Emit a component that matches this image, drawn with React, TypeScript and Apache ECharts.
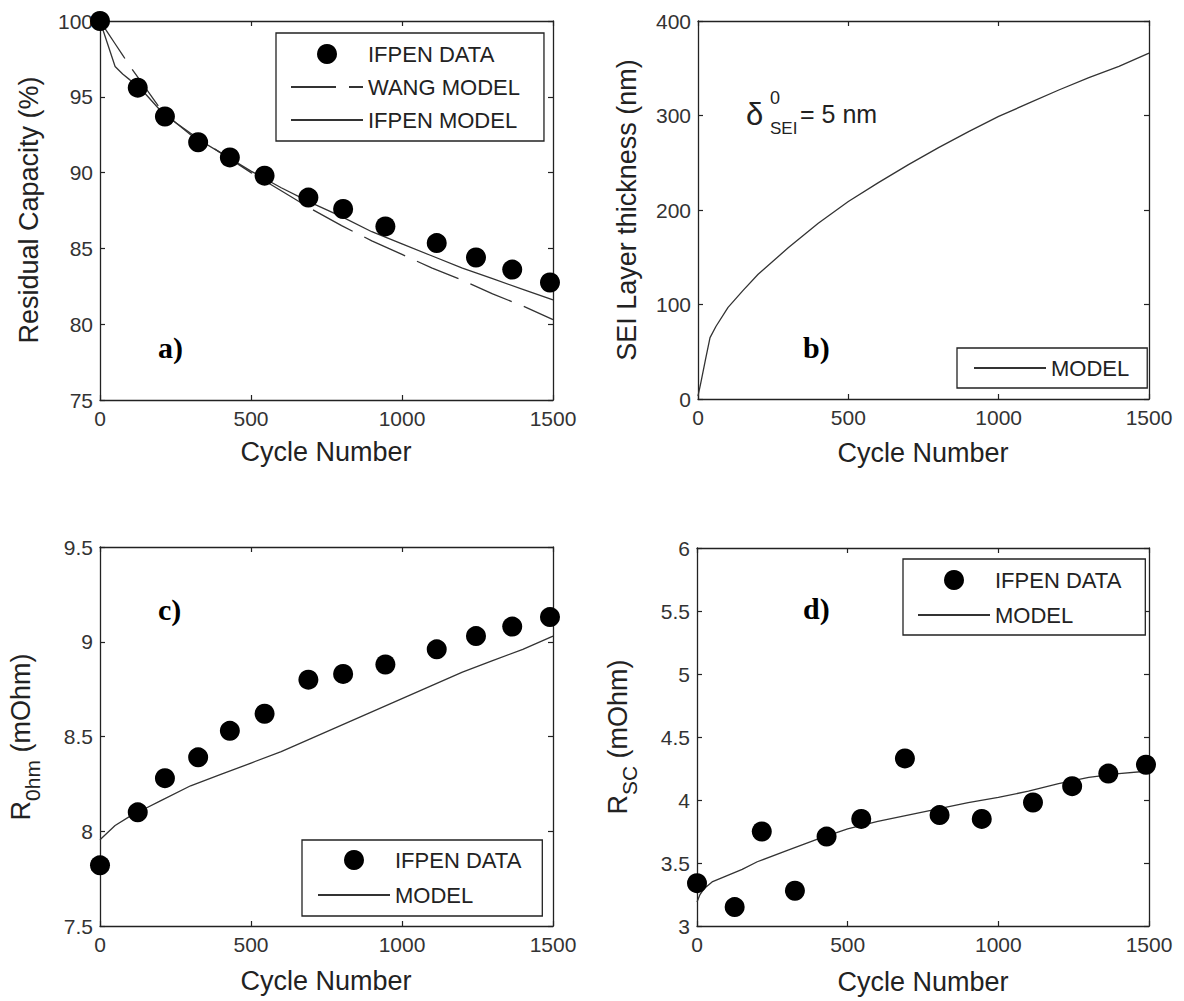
import React, { useEffect, useRef } from "react";
import * as echarts from "echarts";

// ---------- DATA ----------
const dataCycles = [0, 125, 215, 325, 430, 545, 690, 805, 945, 1115, 1245, 1365, 1490];

// a) residual capacity (%)
const capacityData = [100, 95.6, 93.7, 92.0, 91.0, 89.8, 88.35, 87.6, 86.45, 85.35, 84.4, 83.6, 82.75];
const capModelCycles = [0, 25, 50, 75, 100, 150, 200, 250, 300, 400, 500, 600, 700, 800, 900, 1000, 1100, 1200, 1300, 1400, 1500];
const ifpenCapModel = [100, 98.5, 97.0, 96.5, 96.1, 95.2, 94.1, 93.3, 92.5, 91.3, 90.1, 89.0, 88.0, 87.1, 86.1, 85.3, 84.5, 83.7, 83.0, 82.3, 81.6];
const wangCapModel = [100, 99.25, 98.5, 97.75, 97.0, 95.6, 94.2, 93.3, 92.6, 91.3, 90.0, 88.8, 87.6, 86.5, 85.5, 84.6, 83.7, 82.9, 82.0, 81.2, 80.3];

// b) SEI layer thickness (nm)
const seiCycles = [0, 10, 25, 40, 60, 100, 150, 200, 300, 400, 500, 600, 700, 800, 900, 1000, 1100, 1200, 1300, 1400, 1500];
const seiModel = [3, 18, 42, 65, 77, 97, 115, 132, 160, 186, 209, 229, 248, 266, 283, 299, 313, 327, 340, 352, 366];

// c) R_0hm (mOhm)
const rOhmData = [7.82, 8.1, 8.28, 8.39, 8.53, 8.62, 8.8, 8.83, 8.88, 8.96, 9.03, 9.08, 9.13];
const rOhmModelCycles = [0, 50, 100, 150, 200, 300, 400, 500, 600, 700, 800, 900, 1000, 1100, 1200, 1300, 1400, 1500];
const rOhmModel = [7.955, 8.03, 8.08, 8.12, 8.16, 8.24, 8.3, 8.36, 8.42, 8.49, 8.56, 8.63, 8.7, 8.77, 8.84, 8.9, 8.96, 9.03];

// d) R_SC (mOhm)
const rscData = [3.34, 3.15, 3.75, 3.28, 3.71, 3.85, 4.33, 3.88, 3.85, 3.98, 4.11, 4.21, 4.28];
const rscModelCycles = [0, 10, 25, 50, 100, 150, 200, 300, 400, 500, 600, 700, 800, 900, 1000, 1100, 1200, 1300, 1400, 1500];
const rscModel = [3.19, 3.25, 3.3, 3.35, 3.4, 3.45, 3.51, 3.6, 3.69, 3.77, 3.83, 3.88, 3.93, 3.98, 4.02, 4.07, 4.13, 4.18, 4.21, 4.23];

// axis ranges
const xRange = { min: 0, max: 1500, interval: 500 };
const yRanges = [
  { min: 75, max: 100, interval: 5 },
  { min: 0, max: 400, interval: 100 },
  { min: 7.5, max: 9.5, interval: 0.5 },
  { min: 3, max: 6, interval: 0.5 },
];

// ---------- STYLE ----------
const FONT = '"Liberation Sans", Arial, Helvetica, sans-serif';
const SERIF = '"Liberation Serif", "Times New Roman", serif';
const AXIS_COLOR = "#222";
const LINE_COLOR = "#333";
const TEXT_COLOR = "#222";

const grids = [
  { left: 100, top: 21, width: 453, height: 379 },
  { left: 698, top: 21, width: 451, height: 378 },
  { left: 100, top: 547, width: 453, height: 379 },
  { left: 697, top: 548, width: 452, height: 378 },
];

const pair = (xs: number[], ys: number[]) => xs.map((x, i) => [x, ys[i]]);
const plain = (v: number) => String(v);

function makeXAxes(gi: number) {
  const common = {
    type: "value",
    gridIndex: gi,
    ...xRange,
    axisLine: { show: true, onZero: false, lineStyle: { color: AXIS_COLOR, width: 1.3 } },
    axisTick: { show: true, inside: true, length: 5, lineStyle: { color: AXIS_COLOR, width: 1.2 } },
    splitLine: { show: false },
  };
  return [
    {
      ...common,
      position: "bottom",
      axisLabel: { show: true, fontSize: 21, color: "#333", fontFamily: FONT, margin: 8, formatter: plain },
    },
    { ...common, position: "top", axisLabel: { show: false } },
  ];
}

function makeYAxes(gi: number) {
  const common = {
    type: "value",
    gridIndex: gi,
    ...yRanges[gi],
    axisLine: { show: true, onZero: false, lineStyle: { color: AXIS_COLOR, width: 1.3 } },
    axisTick: { show: true, inside: true, length: 5, lineStyle: { color: AXIS_COLOR, width: 1.2 } },
    splitLine: { show: false },
  };
  return [
    {
      ...common,
      position: "left",
      axisLabel: { show: true, fontSize: 21, color: "#333", fontFamily: FONT, margin: 7, formatter: plain },
    },
    { ...common, position: "right", axisLabel: { show: false } },
  ];
}

function scatter(name: string, gi: number, xs: number[], ys: number[]) {
  return {
    type: "scatter",
    name,
    xAxisIndex: gi * 2,
    yAxisIndex: gi * 2,
    data: pair(xs, ys),
    symbol: "circle",
    symbolSize: 20,
    itemStyle: { color: "#000", opacity: 1 },
    z: 5,
  };
}

function line(name: string, gi: number, xs: number[], ys: number[], dashed = false) {
  return {
    type: "line",
    name,
    xAxisIndex: gi * 2,
    yAxisIndex: gi * 2,
    data: pair(xs, ys),
    symbol: "none",
    showSymbol: false,
    smooth: false,
    lineStyle: { color: LINE_COLOR, width: 1.3, type: dashed ? [45, 13] : "solid" },
    itemStyle: { color: LINE_COLOR },
    z: 3,
  };
}

const HIDE_SYMBOL = { color: "rgba(0,0,0,0)", borderColor: "rgba(0,0,0,0)", borderWidth: 0 };

function legendItem(name: string) {
  if (name === "IFPEN DATA") return { name, itemStyle: { color: "#000", opacity: 1 } };
  return { name, itemStyle: HIDE_SYMBOL };
}

function legend(names: string[], left: number, top: number, padding: number[], itemGap: number) {
  return {
    data: names.map(legendItem),
    orient: "vertical",
    left,
    top,
    padding,
    itemGap,
    itemWidth: 72,
    itemHeight: 20,
    selectedMode: false,
    borderColor: AXIS_COLOR,
    borderWidth: 1.3,
    borderRadius: 0,
    backgroundColor: "#fff",
    textStyle: { fontSize: 22, fontFamily: FONT, color: TEXT_COLOR, lineHeight: 22 },
  };
}

function txt(x: number, y: number, text: string, fontSize: number, extra: any = {}, family = FONT) {
  return {
    type: "text",
    x,
    y,
    z: 10,
    ...(extra.rotation !== undefined ? { rotation: extra.rotation } : {}),
    style: {
      text,
      fontSize,
      fontFamily: family,
      fontWeight: extra.bold ? "bold" : "normal",
      fill: extra.fill || TEXT_COLOR,
      align: extra.align || "center",
      verticalAlign: "middle",
      textAlign: extra.align || "center",
      textVerticalAlign: "middle",
      ...(extra.rich ? { rich: extra.rich } : {}),
    },
  };
}

const subRich = {
  m: { fontSize: 27, fontFamily: FONT, fill: TEXT_COLOR, color: TEXT_COLOR, lineHeight: 44, verticalAlign: "middle" },
  s: { fontSize: 21, fontFamily: FONT, fill: TEXT_COLOR, color: TEXT_COLOR, lineHeight: 21, verticalAlign: "bottom" },
};

export default function App() {
  const ref = useRef<HTMLDivElement>(null);
  useEffect(() => {
    if (!ref.current) return;
    const chart = echarts.init(ref.current, undefined, { renderer: "svg", width: 1184, height: 1001 });
    const xAxis = [0, 1, 2, 3].flatMap((i) => makeXAxes(i));
    const yAxis = [0, 1, 2, 3].flatMap((i) => makeYAxes(i));
    const ROT = Math.PI / 2;
    const option: any = {
      animation: false,
      backgroundColor: "#fff",
      grid: grids.map((g) => ({ ...g, containLabel: false })),
      xAxis,
      yAxis,
      legend: [
        legend(["IFPEN DATA", "WANG MODEL", "IFPEN MODEL"], 276, 33, [10, 24, 10, 14], 11),
        legend(["MODEL"], 957, 348, [9, 18, 9, 16], 10),
        legend(["IFPEN DATA", "MODEL"], 302, 840, [9, 21, 10, 15], 13),
        legend(["IFPEN DATA", "MODEL"], 903, 559, [10, 24, 9, 14], 13),
      ],
      series: [
        line("WANG MODEL", 0, capModelCycles, wangCapModel, true),
        line("IFPEN MODEL", 0, capModelCycles, ifpenCapModel),
        scatter("IFPEN DATA", 0, dataCycles, capacityData),
        line("MODEL", 1, seiCycles, seiModel),
        line("MODEL", 2, rOhmModelCycles, rOhmModel),
        scatter("IFPEN DATA", 2, dataCycles, rOhmData),
        line("MODEL", 3, rscModelCycles, rscModel),
        scatter("IFPEN DATA", 3, dataCycles, rscData),
      ],
      graphic: [
        // x-axis titles
        txt(326, 452, "Cycle Number", 27),
        txt(923, 453, "Cycle Number", 27),
        txt(326, 981, "Cycle Number", 27),
        txt(923, 982, "Cycle Number", 27),
        // y-axis titles
        txt(29, 210, "Residual Capacity (%)", 27, { rotation: ROT }),
        txt(627, 210, "SEI Layer thickness (nm)", 27, { rotation: ROT }),
        txt(21, 737, "{m|R}{s|0hm}{m| (mOhm)}", 27, { rotation: ROT, rich: subRich }),
        txt(618, 737, "{m|R}{s|SC}{m| (mOhm)}", 27, { rotation: ROT, rich: subRich }),
        // panel labels
        txt(158, 347, "a)", 30, { bold: true, align: "left", fill: "#000" }, SERIF),
        txt(803, 347, "b)", 30, { bold: true, align: "left", fill: "#000" }, SERIF),
        txt(158, 609, "c)", 30, { bold: true, align: "left", fill: "#000" }, SERIF),
        txt(803, 608, "d)", 30, { bold: true, align: "left", fill: "#000" }, SERIF),
        // delta annotation
        txt(746, 114, "δ", 31, { align: "left" }),
        txt(770, 98, "0", 18, { align: "left" }),
        txt(770, 128, "SEI", 17, { align: "left" }),
        txt(800, 114, "= 5 nm", 25, { align: "left" }),
      ],
    };
    chart.setOption(option);
    return () => chart.dispose();
  }, []);
  return (
    <div
      ref={ref}
      style={{ position: "absolute", left: 0, top: 0, width: 1184, height: 1001, background: "#fff" }}
    />
  );
}
